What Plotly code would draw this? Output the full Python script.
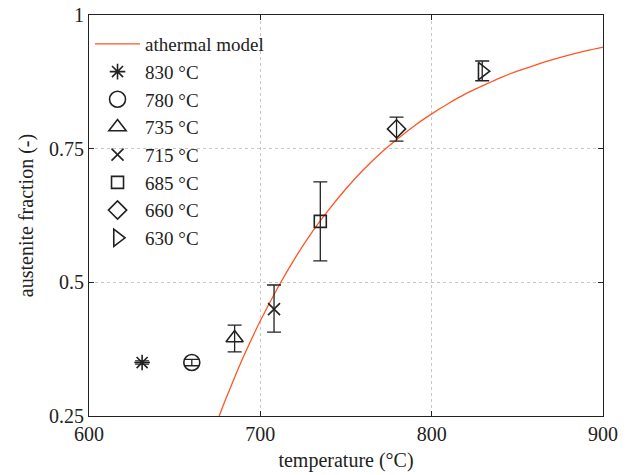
import plotly.graph_objects as go

# athermal model curve
model_T = [676, 680, 690, 700, 710, 720, 730, 740, 750, 760, 770, 780, 790, 800,
           810, 820, 830, 840, 850, 860, 870, 880, 890, 900]
model_f = [0.25, 0.283, 0.360, 0.428, 0.489, 0.544, 0.593, 0.636, 0.675, 0.710,
           0.741, 0.768, 0.793, 0.815, 0.835, 0.853, 0.868, 0.8825, 0.895, 0.906,
           0.916, 0.925, 0.933, 0.940]

# measured points
labels = ["830 °C", "780 °C", "735 °C", "715 °C", "685 °C", "660 °C", "630 °C"]
temps = [631, 660, 685, 708, 735, 779.5, 829.5]
fracs = [0.350, 0.350, 0.396, 0.450, 0.614, 0.787, 0.895]
err_plus = [0.003, 0.006, 0.024, 0.045, 0.074, 0.022, 0.019]
err_minus = [0.003, 0.006, 0.026, 0.043, 0.074, 0.023, 0.018]
symbols = ["asterisk-open", "circle-open", "triangle-up-open", "x-thin-open",
           "square-open", "diamond-open", "triangle-right-open"]
sizes = [13, 16, 15, 12, 12, 14, 15]

fig = go.Figure()
fig.add_trace(go.Scatter(x=model_T, y=model_f, mode="lines", name="athermal model",
                         line=dict(color="#ff5522", width=1.3, shape="spline")))
for lab, t, f, ep, em, sym, sz in zip(labels, temps, fracs, err_plus, err_minus, symbols, sizes):
    fig.add_trace(go.Scatter(
        x=[t], y=[f], mode="markers", name=lab,
        marker=dict(symbol=sym, size=sz, color="#222222", line=dict(color="#222222", width=1.6)),
        error_y=dict(type="data", symmetric=False, array=[ep], arrayminus=[em],
                     color="#222222", thickness=1.3, width=7),
    ))

font = "Liberation Serif"
fig.update_layout(
    width=629, height=475,
    margin=dict(l=89, r=26, t=15, b=59),
    paper_bgcolor="white", plot_bgcolor="white",
    font=dict(family=font, size=20, color="#222222"),
    showlegend=True,
    legend=dict(x=0.002, y=0.975, xanchor="left", yanchor="top",
                bgcolor="rgba(0,0,0,0)", font=dict(family=font, size=19),
                itemwidth=45, tracegroupgap=0),
    xaxis=dict(range=[600, 900], tickvals=[600, 700, 800, 900],
               ticks="inside", ticklen=5, tickcolor="#222222",
               showline=True, linecolor="#222222", linewidth=1, mirror="ticks",
               showgrid=True, gridcolor="#c8c8c8", griddash="dot", gridwidth=1,
               zeroline=False, ticklabeloverflow="allow", automargin=False,
               title=dict(text="temperature (°C)", font=dict(family=font, size=20), standoff=8)),
    yaxis=dict(range=[0.25, 1], tickvals=[0.25, 0.5, 0.75, 1],
               ticktext=["0.25", "0.5", "0.75", "1"],
               ticks="inside", ticklen=5, tickcolor="#222222",
               showline=True, linecolor="#222222", linewidth=1, mirror="ticks",
               showgrid=True, gridcolor="#c8c8c8", griddash="dot", gridwidth=1,
               zeroline=False, ticklabeloverflow="allow", automargin=False,
               title=dict(text="austenite fraction (-)", font=dict(family=font, size=20), standoff=10)),
)
fig.write_html("out.html", config={"displayModeBar": False},
               post_script="document.body.style.margin='0';")
